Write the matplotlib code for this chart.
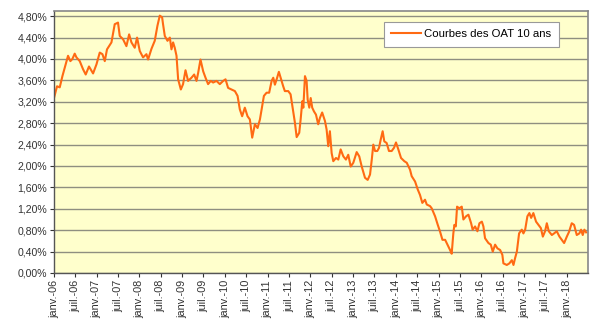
import matplotlib
matplotlib.use("Agg")
import matplotlib.pyplot as plt
import matplotlib.dates as mdates
from matplotlib.ticker import FuncFormatter, MultipleLocator
import pandas as pd

# Rendement de l'OAT 10 ans (en %), relevés approximatifs
dates = [
    "2006-01-02", "2006-01-27", "2006-02-19", "2006-03-14", "2006-04-03", "2006-05-01",
    "2006-05-21", "2006-06-07", "2006-06-27", "2006-07-12", "2006-08-09", "2006-09-06",
    "2006-09-29", "2006-10-27", "2006-12-01", "2006-12-30", "2007-01-27", "2007-02-19",
    "2007-03-11", "2007-03-30", "2007-05-07", "2007-06-04", "2007-07-02", "2007-07-17",
    "2007-08-14", "2007-09-12", "2007-10-05", "2007-10-25", "2007-11-22", "2007-12-12",
    "2008-01-04", "2008-02-01", "2008-03-01", "2008-03-15", "2008-04-13", "2008-05-11",
    "2008-06-03", "2008-06-23", "2008-07-13", "2008-07-21", "2008-08-05", "2008-08-28",
    "2008-09-17", "2008-10-01", "2008-10-15", "2008-10-29", "2008-11-13", "2008-11-27",
    "2008-12-20", "2009-01-08", "2009-01-29", "2009-02-20", "2009-03-21", "2009-04-13",
    "2009-05-03", "2009-05-17", "2009-06-06", "2009-06-29", "2009-07-19", "2009-08-10",
    "2009-09-02", "2009-09-22", "2009-10-21", "2009-11-18", "2009-12-17", "2010-01-06",
    "2010-01-28", "2010-02-26", "2010-03-27", "2010-04-19", "2010-05-08", "2010-05-28",
    "2010-06-20", "2010-07-13", "2010-08-02", "2010-08-22", "2010-09-14", "2010-10-07",
    "2010-10-27", "2010-11-15", "2010-11-30", "2010-12-23", "2011-01-14", "2011-02-04",
    "2011-02-18", "2011-03-04", "2011-03-19", "2011-04-07", "2011-04-22", "2011-05-14",
    "2011-05-28", "2011-06-26", "2011-07-16", "2011-08-02", "2011-08-22", "2011-09-06",
    "2011-09-28", "2011-10-10", "2011-10-24", "2011-11-02", "2011-11-16", "2011-11-30",
    "2011-12-09", "2011-12-23", "2012-01-04", "2012-01-17", "2012-02-01", "2012-02-18",
    "2012-03-08", "2012-03-23", "2012-04-11", "2012-05-05", "2012-05-19", "2012-06-02",
    "2012-06-16", "2012-07-01", "2012-07-15", "2012-08-07", "2012-08-27", "2012-09-16",
    "2012-10-09", "2012-10-31", "2012-11-20", "2012-12-11", "2013-01-02", "2013-01-31",
    "2013-02-22", "2013-03-15", "2013-04-12", "2013-05-05", "2013-05-25", "2013-06-09",
    "2013-06-22", "2013-07-07", "2013-07-26", "2013-08-10", "2013-08-24", "2013-09-10",
    "2013-09-24", "2013-10-14", "2013-11-03", "2013-11-26", "2013-12-16", "2014-01-02",
    "2014-01-22", "2014-02-14", "2014-03-14", "2014-04-04", "2014-05-02", "2014-05-16",
    "2014-06-14", "2014-07-07", "2014-07-26", "2014-08-15", "2014-09-07", "2014-09-22",
    "2014-10-20", "2014-11-03", "2014-12-02", "2014-12-25", "2015-01-14", "2015-02-03",
    "2015-02-26", "2015-03-20", "2015-04-09", "2015-04-23", "2015-05-07", "2015-05-16",
    "2015-05-28", "2015-06-08", "2015-06-27", "2015-07-18", "2015-08-01", "2015-08-24",
    "2015-09-13", "2015-10-06", "2015-10-19", "2015-11-09", "2015-11-29", "2015-12-16",
    "2016-01-06", "2016-01-19", "2016-02-02", "2016-03-02", "2016-03-22", "2016-04-08",
    "2016-04-28", "2016-05-18", "2016-06-10", "2016-06-29", "2016-07-08", "2016-08-06",
    "2016-08-28", "2016-09-18", "2016-10-02", "2016-10-16", "2016-10-31", "2016-11-19",
    "2016-12-12", "2016-12-26", "2017-01-10", "2017-01-29", "2017-02-15", "2017-03-02",
    "2017-03-21", "2017-04-13", "2017-05-03", "2017-05-24", "2017-06-10", "2017-06-29",
    "2017-07-14", "2017-07-31", "2017-08-26", "2017-09-14", "2017-10-07", "2017-10-30",
    "2017-11-19", "2017-12-09", "2018-01-01", "2018-01-20", "2018-02-12", "2018-03-04",
    "2018-03-27", "2018-04-18", "2018-05-03", "2018-05-17", "2018-05-31", "2018-06-15",
]
taux = [
    3.28, 3.49, 3.47, 3.68, 3.84, 4.06,
    3.96, 4.00, 4.10, 4.03, 3.96, 3.81,
    3.71, 3.86, 3.73, 3.90, 4.12, 4.09,
    3.96, 4.18, 4.31, 4.65, 4.68, 4.43,
    4.37, 4.24, 4.46, 4.31, 4.21, 4.40,
    4.15, 4.03, 4.09, 3.99, 4.19, 4.34,
    4.62, 4.81, 4.78, 4.65, 4.43, 4.34,
    4.40, 4.18, 4.31, 4.21, 4.06, 3.62,
    3.43, 3.53, 3.79, 3.59, 3.65, 3.71,
    3.59, 3.74, 3.99, 3.77, 3.65, 3.53,
    3.59, 3.56, 3.59, 3.53, 3.59, 3.62,
    3.46, 3.43, 3.40, 3.31, 3.06, 2.93,
    3.09, 2.93, 2.87, 2.53, 2.78, 2.71,
    2.87, 3.12, 3.31, 3.37, 3.37, 3.59,
    3.65, 3.52, 3.62, 3.76, 3.65, 3.49,
    3.40, 3.40, 3.34, 3.09, 2.81, 2.54,
    2.62, 2.87, 3.21, 3.09, 3.68, 3.59,
    3.24, 3.09, 3.27, 3.09, 3.02, 2.96,
    2.78, 2.90, 3.00, 2.84, 2.68, 2.37,
    2.65, 2.24, 2.09, 2.15, 2.12, 2.31,
    2.18, 2.12, 2.21, 1.99, 2.06, 2.26,
    2.18, 1.99, 1.78, 1.74, 1.84, 2.12,
    2.40, 2.28, 2.28, 2.34, 2.49, 2.65,
    2.46, 2.43, 2.28, 2.28, 2.34, 2.44,
    2.31, 2.15, 2.09, 2.06, 1.93, 1.81,
    1.71, 1.56, 1.46, 1.31, 1.37, 1.28,
    1.25, 1.21, 1.06, 0.90, 0.77, 0.62,
    0.62, 0.52, 0.43, 0.36, 0.74, 0.90,
    0.87, 1.24, 1.21, 1.24, 1.00, 1.06,
    1.09, 0.93, 0.81, 0.87, 0.78, 0.93,
    0.96, 0.87, 0.65, 0.56, 0.53, 0.40,
    0.53, 0.46, 0.43, 0.34, 0.18, 0.15,
    0.18, 0.24, 0.15, 0.28, 0.40, 0.74,
    0.81, 0.74, 0.81, 1.06, 1.12, 1.03,
    1.12, 0.96, 0.90, 0.84, 0.68, 0.78,
    0.93, 0.78, 0.71, 0.74, 0.78, 0.68,
    0.62, 0.56, 0.68, 0.77, 0.93, 0.90,
    0.71, 0.74, 0.81, 0.71, 0.81, 0.76,
]
mois_fr = {1: "janv.", 7: "juil."}
serie_label = "Courbes des OAT 10 ans"

x = pd.to_datetime(dates)
y = [v / 100 for v in taux]

plt.rcParams["font.family"] = ["Liberation Sans", "DejaVu Sans"]

fig = plt.figure(figsize=(6, 3.25), dpi=100)
ax = fig.add_axes([0.09, 0.16, 0.89, 0.805])
ax.set_facecolor("#FFFFCC")

ax.plot(x, y, color="#FF6A13", lw=1.5, label=serie_label)

ax.set_xlim(pd.Timestamp("2006-01-01"), pd.Timestamp("2018-07-01"))
ax.set_ylim(0, 0.0489)

ticks = pd.date_range("2006-01-01", "2018-01-01", freq="6MS")
ax.set_xticks(mdates.date2num(ticks))
ax.xaxis.set_major_formatter(FuncFormatter(
    lambda v, p: "%s-%02d" % (mois_fr[mdates.num2date(v).month], mdates.num2date(v).year % 100)))
ax.yaxis.set_major_locator(MultipleLocator(0.004))
ax.yaxis.set_major_formatter(FuncFormatter(lambda v, p: ("%.2f%%" % (v * 100)).replace(".", ",")))

plt.setp(ax.get_xticklabels(), rotation=90)
ax.tick_params(axis="x", labelsize=7.8, colors="#333333", length=3, width=0.8, pad=2)
ax.tick_params(axis="y", labelsize=7.6, colors="#333333", length=3, width=0.8, pad=2)

ax.grid(axis="y", color="#8f8f80", lw=1)
ax.set_axisbelow(True)
for side in ["top", "right"]:
    ax.spines[side].set_color("#888888")
    ax.spines[side].set_linewidth(1.2)
for side in ["left", "bottom"]:
    ax.spines[side].set_color("#555555")
    ax.spines[side].set_linewidth(1)

leg = ax.legend(loc="upper left", bbox_to_anchor=(0.618, 0.96), fontsize=8.2,
                frameon=True, fancybox=False, handlelength=2.6, handletextpad=0.3,
                borderpad=0.65, borderaxespad=0)
leg.get_frame().set_edgecolor("#999999")
leg.get_frame().set_facecolor("white")
leg.get_frame().set_alpha(1)
leg.get_frame().set_linewidth(0.8)

fig.savefig("out.png", dpi=100)
